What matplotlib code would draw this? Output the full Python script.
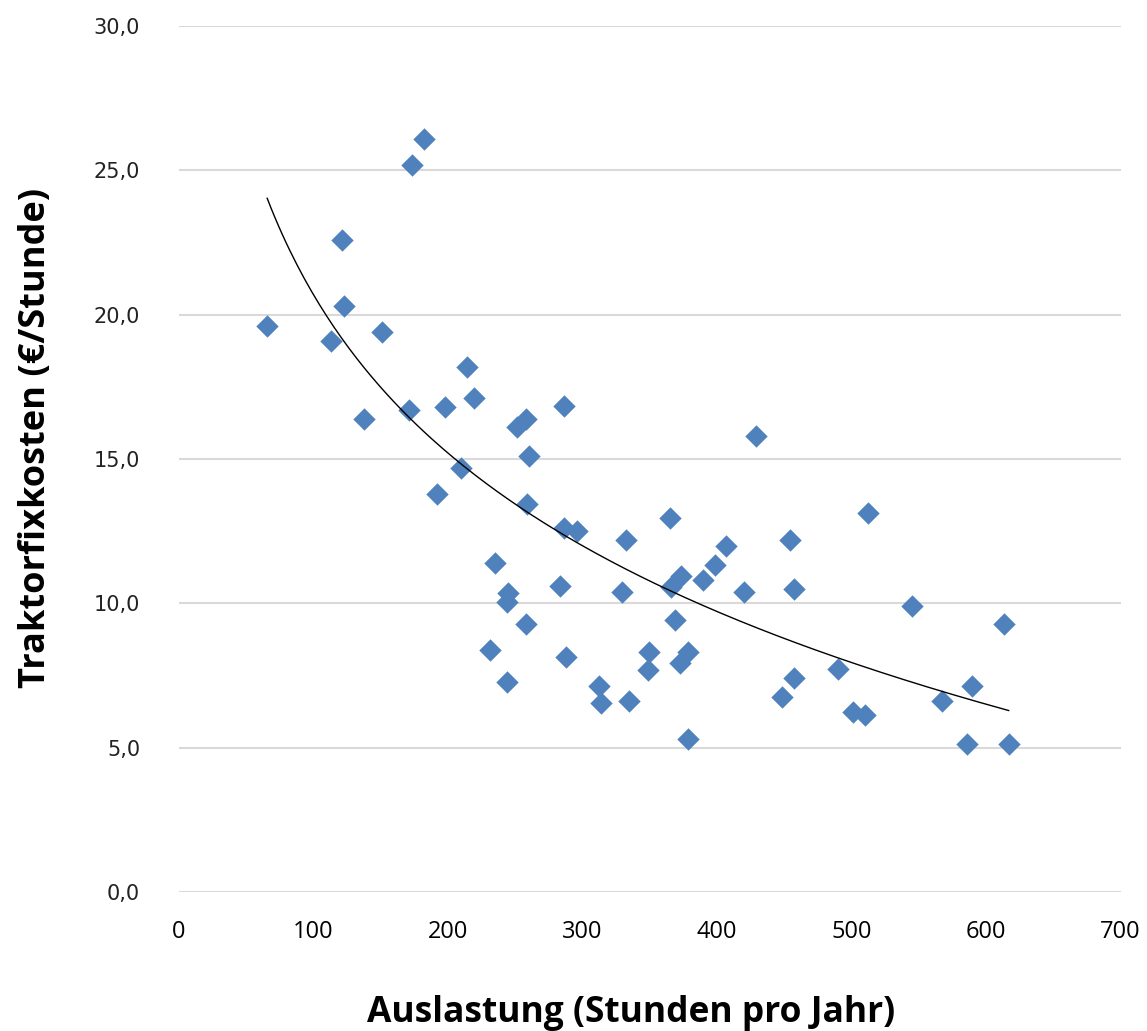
import matplotlib
matplotlib.use("Agg")
import matplotlib.pyplot as plt
import numpy as np

# Auslastung (Stunden pro Jahr)
hours = [65.6, 113.3, 120.9, 122.6, 137.7, 150.6, 171.1, 173.1, 181.8, 192.1,
         198.1, 209.9, 214.2, 219.2, 230.9, 234.8, 243.5, 243.5, 244.7, 251.0,
         258.2, 258.3, 259.0, 260.3, 283.1, 286.1, 286.2, 288.0, 296.0, 312.4,
         314.1, 329.0, 332.6, 334.6, 348.8, 349.6, 364.8, 366.1, 368.6, 372.3,
         373.5, 378.5, 378.5, 389.6, 398.3, 406.9, 420.0, 428.6, 448.3, 454.0,
         457.0, 457.0, 489.9, 501.3, 510.1, 512.1, 545.0, 567.2, 585.8, 589.5,
         613.4, 616.8]
# Traktorfixkosten (EUR/Stunde)
costs = [19.6, 19.1, 22.6, 20.3, 16.4, 19.4, 16.7, 25.2, 26.1, 13.8,
         16.8, 14.7, 18.2, 17.1, 8.4, 11.4, 7.27, 10.06, 10.35, 16.1,
         16.4, 9.28, 13.43, 15.12, 10.6, 12.6, 16.85, 8.14, 12.52, 7.15,
         6.54, 10.41, 12.2, 6.62, 7.70, 8.33, 12.97, 10.58, 9.43, 7.93,
         10.93, 8.33, 5.31, 10.81, 11.33, 12.0, 10.41, 15.8, 6.77, 12.2,
         10.5, 7.41, 7.72, 6.22, 6.14, 13.12, 9.91, 6.63, 5.13, 7.14,
         9.28, 5.13]

x_ticks = [0, 100, 200, 300, 400, 500, 600, 700]
y_ticks = [0, 5, 10, 15, 20, 25, 30]

x = np.array(hours)
y = np.array(costs)

# logarithmic trendline (y = a + b*ln x), like excel
b, a = np.polyfit(np.log(x), y, 1)
xs = np.linspace(x.min(), x.max(), 200)
ys = a + b * np.log(xs)

fig = plt.figure(figsize=(11.47, 10.31), dpi=100)
ax = fig.add_axes([0.156, 0.1348, 0.821, 0.84])

ax.scatter(x, y, marker="D", s=130, color="#4F81BD", linewidths=0, zorder=3)
ax.plot(xs, ys, color="black", linewidth=1.0, zorder=4)

ax.set_xlim(0, 700)
ax.set_ylim(0, 30)
ax.set_xticks(x_ticks)
ax.set_yticks(y_ticks)
ax.set_xticklabels([str(t) for t in x_ticks], fontfamily="Open Sans", fontsize=17)
ax.set_yticklabels([("%.1f" % t).replace(".", ",") for t in y_ticks],
                   fontfamily="DejaVu Sans", fontsize=15, color="#222222")
ax.tick_params(axis="both", length=0)
ax.tick_params(axis="x", pad=20)
ax.tick_params(axis="y", pad=28)

ax.grid(axis="y", color="#D9D9D9", linewidth=1.5, zorder=0)
ax.set_axisbelow(True)
for s in ax.spines.values():
    s.set_visible(False)

ax.set_xlabel("Auslastung (Stunden pro Jahr)", fontfamily="Open Sans",
              fontweight="bold", fontsize=25.5)
ax.xaxis.set_label_coords(0.48, -0.119)
ax.set_ylabel("Traktorfixkosten (€/Stunde)", fontfamily="Open Sans",
              fontweight="bold", fontsize=26)
ax.yaxis.set_label_coords(-0.133, 0.524)

fig.savefig("out.png", dpi=100)
